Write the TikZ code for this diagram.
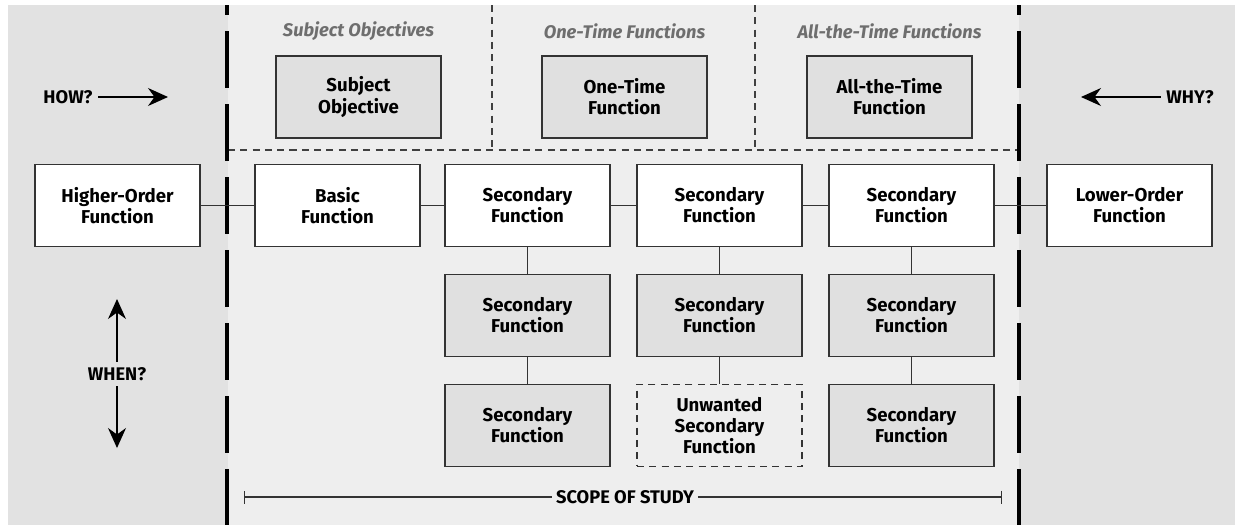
\documentclass[tikz,border=0pt]{standalone}
\usepackage{fontspec}
\setmainfont{Fira Sans}
\usetikzlibrary{positioning, arrows.meta}

\definecolor{outergray}{HTML}{E2E2E2}
\definecolor{innergray}{HTML}{EEEEEE}
\definecolor{boxgray}{HTML}{E0E0E0}
\definecolor{headgray}{HTML}{6E6E6E}

\tikzset{
  fn/.style={draw=black!80, line width=0.85pt, minimum width=3.3cm, minimum height=1.64cm,
    inner sep=2pt, align=center, font=\fontsize{10.6}{12}\selectfont\bfseries},
  whitebox/.style={fn, fill=white},
  graybox/.style={fn, fill=boxgray},
  dashbox/.style={fn, fill=innergray, dashed, dash pattern=on 4pt off 3pt},
  headtext/.style={text=headgray, font=\fontsize{10.4}{12}\selectfont\bfseries\itshape},
  cue/.style={font=\fontsize{10.4}{12}\selectfont\bfseries, inner sep=3pt},
  link/.style={draw=black!80, line width=0.85pt},
  bigdash/.style={line width=2.5pt, dash pattern=on 1.14cm off 0.32cm, dash phase=0.94cm},
  thindash/.style={draw=black!75, line width=0.7pt, dash pattern=on 4pt off 3pt},
}

\begin{document}
\begin{tikzpicture}[x=0.02cm, y=-0.02cm, node distance=2.2cm, on grid,
    >={Stealth[length=0.4cm, width=0.36cm, inset=0.13cm]}]
    \useasboundingbox (0,0) rectangle (1235,525);

    % Background bands
    \fill[outergray] (8,5) rectangle (1235,525);
    \fill[innergray] (228,5) rectangle (1019,525);

    % Dividers of the top band
    \draw[thindash] (228,150) -- (1017,150);
    \draw[thindash] (492,5) -- (492,150);
    \draw[thindash] (755,5) -- (755,150);

    % Scope limits
    \draw[bigdash] (227,5) -- (227,525);
    \draw[bigdash] (1019,5) -- (1019,525);

    % Top band
    \node[headtext] (subjhead) at (358.5,31) {Subject Objectives};
    \node[headtext] (oncehead) at (624.5,31) {One-Time Functions};
    \node[headtext] (alwayshead) at (889.5,31) {All-the-Time Functions};
    \node[graybox] (subj) at (358.5,97) {Subject\\Objective};
    \node[graybox] (once) at (624.5,97) {One-Time\\Function};
    \node[graybox] (always) at (889.5,97) {All-the-Time\\Function};

    % Main path
    \node[whitebox] (higher) at (117.5,205.5) {Higher-Order\\Function};
    \node[whitebox] (basic) at (337.5,205.5) {Basic\\Function};
    \node[whitebox] (seca) at (527.5,205.5) {Secondary\\Function};
    \node[whitebox] (secb) at (719.5,205.5) {Secondary\\Function};
    \node[whitebox] (secc) at (911.5,205.5) {Secondary\\Function};
    \node[whitebox] (lower) at (1129.5,205.5) {Lower-Order\\Function};

    % Branches
    \node[graybox] (seca2) [below=of seca] {Secondary\\Function};
    \node[graybox] (seca3) [below=of seca2] {Secondary\\Function};
    \node[graybox] (secb2) [below=of secb] {Secondary\\Function};
    \node[dashbox] (unwanted) [below=of secb2] {Unwanted\\Secondary\\Function};
    \node[graybox] (secc2) [below=of secc] {Secondary\\Function};
    \node[graybox] (secc3) [below=of secc2] {Secondary\\Function};

    \path[link] (higher) -- (basic) -- (seca) -- (secb) -- (secc) -- (lower);
    \path[link] (seca) -- (seca2) -- (seca3);
    \path[link] (secb) -- (secb2) -- (unwanted);
    \path[link] (secc) -- (secc2) -- (secc3);

    % Questions
    \node[cue] (how) at (68,97) {HOW?};
    \coordinate (howtip) at (168,97);
    \draw[->, line width=0.8pt] (how) -- (howtip);
    \node[cue] (why) at (1190,97) {WHY?};
    \coordinate (whytip) at (1081,97);
    \draw[->, line width=0.8pt] (why) -- (whytip);
    \node[cue] (when) at (117,374) {WHEN?};
    \coordinate (whenup) at (117,299);
    \coordinate (whendown) at (117,448);
    \draw[->, line width=0.8pt] (when) -- (whenup);
    \draw[->, line width=0.8pt] (when) -- (whendown);

    % Scope of study
    \node[cue, fill=innergray, inner sep=2pt] (scope) at (625,497) {SCOPE OF STUDY};
    \coordinate (scopeleft) at (244,497);
    \coordinate (scoperight) at (1002,497);
    \draw[{Bar[width=0.26cm]}-, draw=black!80, line width=0.8pt] (scopeleft) -- (scope);
    \draw[-{Bar[width=0.26cm]}, draw=black!80, line width=0.8pt] (scope) -- (scoperight);
\end{tikzpicture}
\end{document}
